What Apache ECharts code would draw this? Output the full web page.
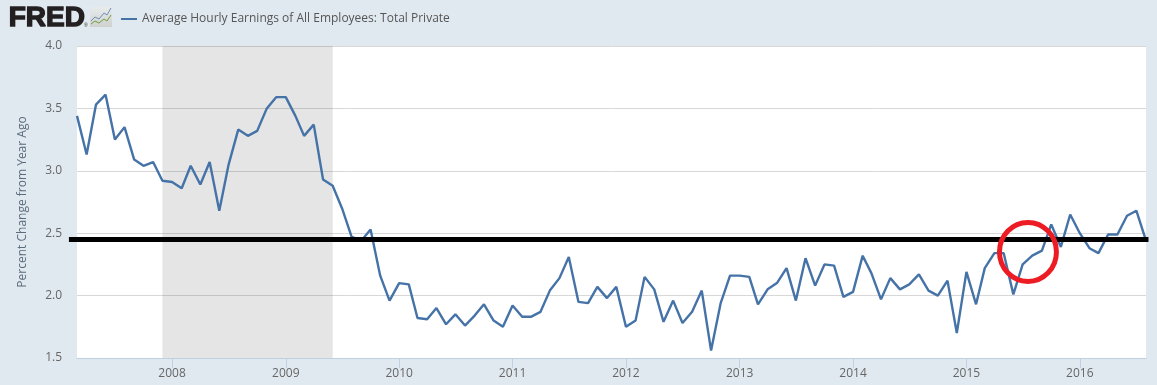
<!DOCTYPE html>
<html><head><meta charset="utf-8">
<style>html,body{margin:0;padding:0;background:#e1e9f0}#c{width:1157px;height:385px}</style>
<script src="https://cdn.jsdelivr.net/npm/echarts@6/dist/echarts.min.js"></script>
</head><body><div id="c"></div>
<script>
const startYear = 2007, startMonth = 2; // March 2007
const seriesName = 'Average Hourly Earnings of All Employees: Total Private';
const values = [
 3.44,3.13,3.53,3.61,3.25,3.35,3.09,3.04,3.07,2.92,
 2.91,2.86,3.04,2.89,3.07,2.68,3.05,3.33,3.28,3.32,3.50,3.59,
 3.59,3.44,3.28,3.37,2.93,2.88,2.70,2.47,2.44,2.53,2.16,1.96,
 2.10,2.09,1.82,1.81,1.90,1.77,1.85,1.76,1.84,1.93,1.80,1.75,
 1.92,1.83,1.83,1.87,2.04,2.14,2.31,1.95,1.94,2.07,1.98,2.07,
 1.75,1.80,2.15,2.05,1.79,1.96,1.78,1.87,2.04,1.56,1.94,2.16,
 2.16,2.15,1.93,2.05,2.10,2.22,1.96,2.30,2.08,2.25,2.24,1.99,
 2.03,2.32,2.18,1.97,2.14,2.05,2.09,2.17,2.04,2.00,2.12,1.70,
 2.19,1.93,2.22,2.34,2.34,2.01,2.25,2.32,2.36,2.57,2.39,2.65,
 2.50,2.38,2.34,2.49,2.49,2.64,2.68,2.44
];
const yearTicks = [2008,2009,2010,2011,2012,2013,2014,2015,2016];
const yTicks = ['1.5','2.0','2.5','3.0','3.5','4.0'];
const recession = [[2007,11],[2009,5]];
const refLine = {value:2.45, from:[2007,1,3], to:[2016,7,9]};
const circle = {date:[2015,6,18], value:2.35};

const data = values.map((v,i)=>[Date.UTC(startYear,startMonth+i,1),v]);
const yearValues = yearTicks.map(y=>Date.UTC(y,0,1));
const chart = echarts.init(document.getElementById('c'),null,{renderer:'canvas'});
const font = '"Open Sans"';
chart.setOption({
  animation:false, backgroundColor:'#e1e9f0',
  textStyle:{fontFamily:font},
  grid:{left:77,top:46,width:1069,height:312,containLabel:false,backgroundColor:'#fff',show:true,borderWidth:0},
  legend:{left:116,top:8,icon:'rect',itemWidth:16,itemHeight:2,itemGap:5,data:[seriesName],
    textStyle:{fontFamily:font,fontSize:12,color:'#555'},selectedMode:false},
  xAxis:{type:'value',scale:true,min:data[0][0],max:data[data.length-1][0],
    axisLine:{show:true,onZero:false,lineStyle:{color:'#c0d0e0',width:1}},
    splitLine:{show:false},
    axisTick:{show:true,length:10,lineStyle:{color:'#c0d0e0'},customValues:yearValues},
    axisLabel:{color:'#666',fontSize:12,margin:10,hideOverlap:false,
      customValues:yearValues,
      formatter:v=>String(new Date(v).getUTCFullYear())}},
  yAxis:{type:'value',min:+yTicks[0],max:+yTicks[yTicks.length-1],interval:0.5,
    name:'Percent Change from Year Ago',nameLocation:'middle',nameGap:48,nameRotate:90,
    nameTextStyle:{color:'#5b6b7b',fontSize:12,fontFamily:font},
    axisLine:{show:false},axisTick:{show:false},
    splitLine:{show:true,lineStyle:{color:'#d8d8d8',width:1}},
    axisLabel:{color:'#666',fontSize:12,margin:15,padding:[3,0,0,0],formatter:v=>v.toFixed(1)}},
  series:[
    {name:seriesName,type:'line',data,showSymbol:false,symbol:'none',z:3,
     lineStyle:{color:'#4572a7',width:2.4},itemStyle:{color:'#4572a7'},
     markArea:{silent:true,itemStyle:{color:'rgba(70,70,70,0.14)'},
       data:[[{xAxis:Date.UTC(recession[0][0],recession[0][1],1)},{xAxis:Date.UTC(recession[1][0],recession[1][1],1)}]]}},
    {name:'ref',type:'custom',z:5,clip:false,silent:true,
     data:[[Date.UTC(...refLine.from),Date.UTC(...refLine.to),refLine.value]],
     encode:{x:[0,1],y:2},
     renderItem:(p,api)=>{const a=api.coord([api.value(0),api.value(2)]),b=api.coord([api.value(1),api.value(2)]);
       return {type:'line',shape:{x1:a[0],y1:a[1],x2:b[0],y2:b[1]},style:{stroke:'#000',lineWidth:5,fill:null}};}},
    {name:'circle',type:'custom',z:6,clip:false,silent:true,
     data:[[Date.UTC(...circle.date),circle.value]],
     encode:{x:0,y:1},
     renderItem:(p,api)=>{const a=api.coord([api.value(0),api.value(1)]);
       return {type:'ellipse',shape:{cx:a[0],cy:a[1],rx:28.5,ry:29.5},style:{stroke:'#ed1c24',lineWidth:5,fill:null}};}}
  ],
  graphic:[
    {type:'text',left:8,top:4,style:{text:'FRED',font:'900 28px "Liberation Sans"',fill:'#231f20',stroke:'#231f20',lineWidth:1.4}},
    {type:'text',left:84,top:23,style:{text:'®',font:'5px "Liberation Sans"',fill:'#231f20'}},
    {type:'rect',shape:{x:90,y:7,width:22,height:20},style:{fill:new echarts.graphic.LinearGradient(0,0,0,1,[{offset:0,color:'#e8ebed'},{offset:1,color:'#cfd1cf'}])}},
    {type:'polyline',shape:{points:[[91,21],[95,17],[99,19],[104,13],[107,15],[111,8]]},style:{stroke:'#6d8fb5',lineWidth:1,fill:null}},
    {type:'polyline',shape:{points:[[91,24],[95,21],[99,23],[104,19],[107,21],[111,15]]},style:{stroke:'#6f9e3c',lineWidth:1,fill:null}}
  ]
});
</script></body></html>
